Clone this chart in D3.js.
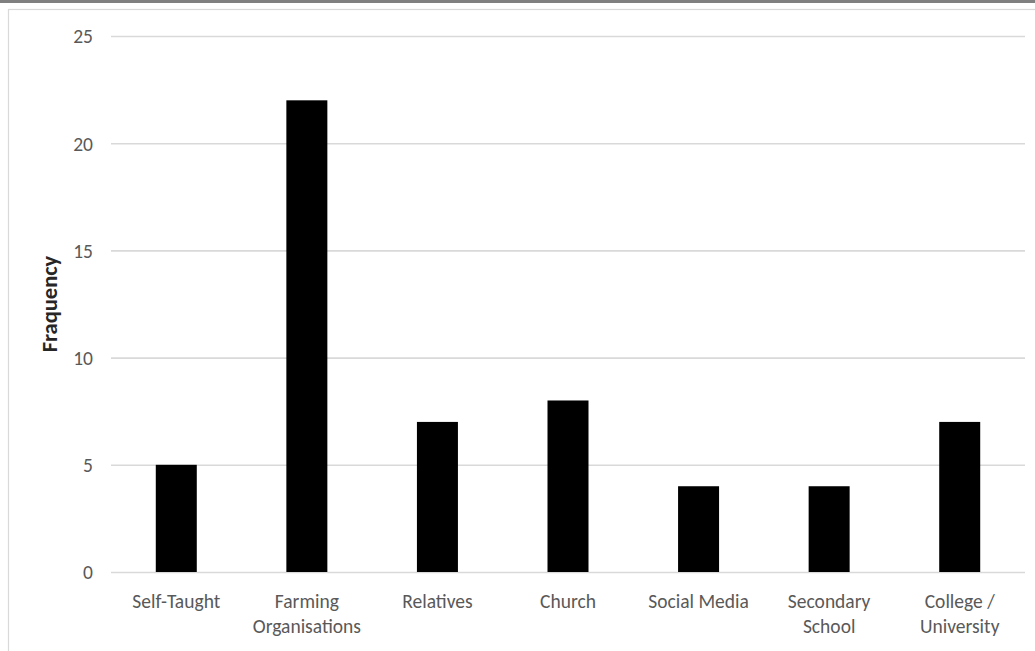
<!DOCTYPE html>
<html>
<head>
<meta charset="utf-8">
<script src="https://cdn.jsdelivr.net/npm/d3@7"></script>
<style>
  html, body { margin: 0; padding: 0; background: #fff; }
  svg { display: block; }
</style>
</head>
<body>
<svg id="chart" width="1035" height="651"></svg>
<script>
const categories = [
  ["Self-Taught"],
  ["Farming", "Organisations"],
  ["Relatives"],
  ["Church"],
  ["Social Media"],
  ["Secondary", "School"],
  ["College /", "University"]
];
const frequency = [5, 22, 7, 8, 4, 4, 7];
const yTicks = [0, 5, 10, 15, 20, 25];
const yTitle = "Fraquency";

const svg = d3.select("#chart");
const W = 1035, H = 651;
const plot = { left: 111, right: 1025, top: 36, bottom: 572 };
const font = "Carlito, Lato, 'Open Sans', sans-serif";

// page frame: dark strip on top, light chart border
svg.append("rect").attr("x", 0).attr("y", 0).attr("width", W).attr("height", 3).attr("fill", "#808080");
svg.append("rect").attr("x", 8.5).attr("y", 9.5).attr("width", W + 10).attr("height", H + 10)
  .attr("fill", "#fff").attr("stroke", "#d9d9d9").attr("stroke-width", 1.2);

const keys = categories.map((c, i) => i);
const x = d3.scaleBand().domain(keys).range([plot.left, plot.right]).paddingInner(0.686).paddingOuter(0.343);
const y = d3.scaleLinear().domain([0, 25]).range([plot.bottom, plot.top]);

// gridlines and value labels
const yAxis = d3.axisLeft(y).tickValues(yTicks).tickSize(-(plot.right - plot.left)).tickPadding(18);
const gy = svg.append("g").attr("transform", `translate(${plot.left},0)`).call(yAxis);
gy.select(".domain").remove();
gy.selectAll(".tick line").attr("stroke", "#d9d9d9").attr("stroke-width", 1.6);
gy.selectAll(".tick text").attr("fill", "#595959").attr("font-family", font).attr("font-size", 19.5)
  .attr("dy", "0.35em");

// bars
svg.append("g").selectAll("rect").data(frequency).join("rect")
  .attr("x", (d, i) => x(i))
  .attr("y", d => y(d))
  .attr("width", x.bandwidth())
  .attr("height", d => y(0) - y(d))
  .attr("fill", "#000");

// category axis labels
const xAxis = d3.axisBottom(x).tickSize(0).tickFormat(() => "");
const gx = svg.append("g").attr("transform", `translate(0,${plot.bottom})`).call(xAxis);
gx.select(".domain").remove();
gx.selectAll(".tick").each(function(i) {
  const t = d3.select(this).append("text")
    .attr("fill", "#595959").attr("font-family", font).attr("font-size", 19.5)
    .attr("text-anchor", "middle");
  categories[i].forEach((line, k) => {
    t.append("tspan").attr("x", 0).attr("y", 36 + k * 24.5).text(line);
  });
});

// y axis title
svg.append("text")
  .attr("transform", `translate(57,${(plot.top + plot.bottom) / 2}) rotate(-90)`)
  .attr("text-anchor", "middle")
  .attr("font-family", font).attr("font-size", 22.5).attr("font-weight", "bold").attr("fill", "#262626")
  .text(yTitle);
</script>
</body>
</html>
